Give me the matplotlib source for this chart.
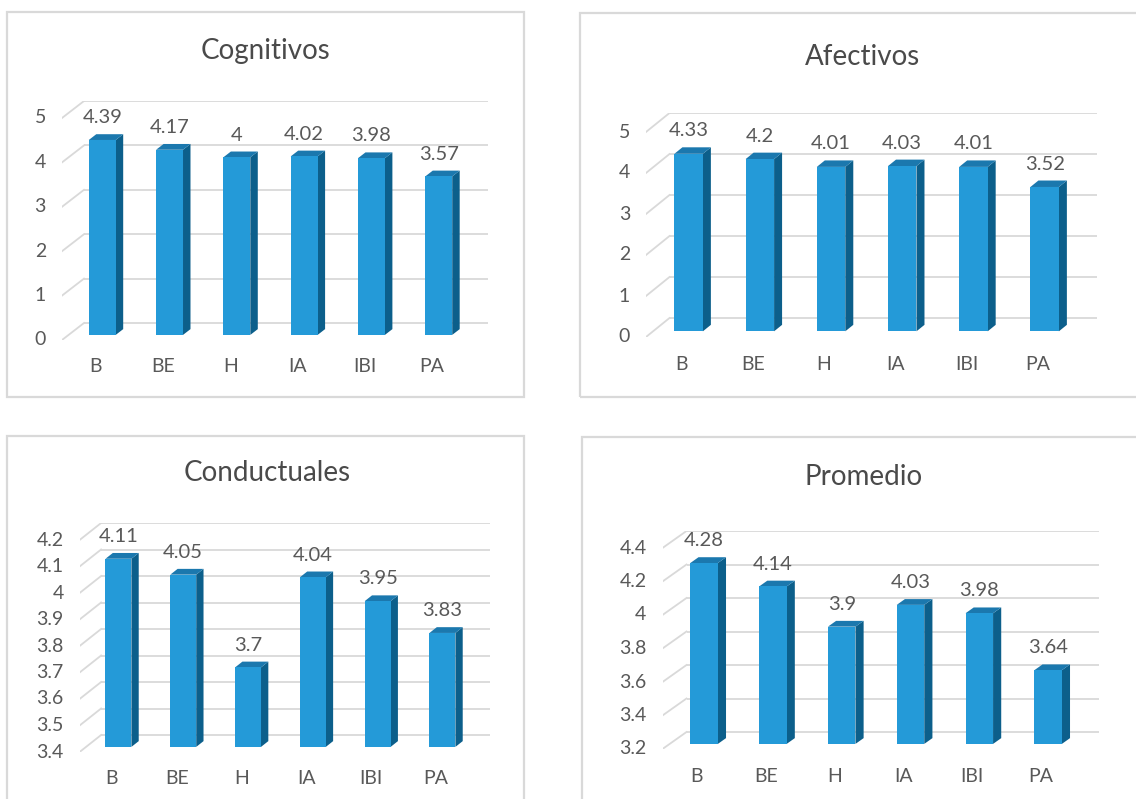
import matplotlib
matplotlib.use("Agg")
import matplotlib.pyplot as plt
from matplotlib.patches import Polygon, Rectangle

plt.rcParams['font.family'] = ['Lato', 'DejaVu Sans']

categories = ["B", "BE", "H", "IA", "IBI", "PA"]
cognitivos = [4.39, 4.17, 4.00, 4.02, 3.98, 3.57]
cognitivos_labels = ["4.39", "4.17", "4", "4.02", "3.98", "3.57"]
afectivos = [4.33, 4.20, 4.01, 4.03, 4.01, 3.52]
afectivos_labels = ["4.33", "4.2", "4.01", "4.03", "4.01", "3.52"]
conductuales = [4.11, 4.05, 3.70, 4.04, 3.95, 3.83]
conductuales_labels = ["4.11", "4.05", "3.7", "4.04", "3.95", "3.83"]
promedio = [4.28, 4.14, 3.90, 4.03, 3.98, 3.64]
promedio_labels = ["4.28", "4.14", "3.9", "4.03", "3.98", "3.64"]

ticks_cog = ["0", "1", "2", "3", "4", "5"]
ticks_afe = ["0", "1", "2", "3", "4", "5"]
ticks_con = ["3.4", "3.5", "3.6", "3.7", "3.8", "3.9", "4", "4.1", "4.2"]
ticks_pro = ["3.2", "3.4", "3.6", "3.8", "4", "4.2", "4.4"]

W, H = 1136, 799
fig = plt.figure(figsize=(W / 100, H / 100), dpi=100)
fig.patch.set_facecolor("white")

FRONT = "#249ad8"
TOP = "#1b78ae"
SIDE = "#0c5f8b"
GRID = "#d9d9d9"
TXT = "#595959"
TITLE = "#4a4a4a"

# panel borders (pixels: x0, y0, x1, y1)
borders = [(7, 12, 524, 397), (580, 13, 1160, 397), (7, 436, 524, 820), (582, 437, 1160, 820)]
for x0, y0, x1, y1 in borders:
    fig.add_artist(Rectangle((x0 / W, 1 - y1 / H), (x1 - x0) / W, (y1 - y0) / H,
                             transform=fig.transFigure, fill=False,
                             edgecolor=GRID, lw=1.6, clip_on=False))


def panel(title, values, labels, ticks, xl, sp, yb, ppu, dx, dy, tx, ty):
    tick_vals = [float(t) for t in ticks]
    ymin, ymax = tick_vals[0], tick_vals[-1]
    left = xl
    right = xl + 6 * sp + dx
    top = yb - (ymax - ymin) * ppu - dy
    ax = fig.add_axes([left / W, 1 - yb / H, (right - left) / W, (yb - top) / H])
    dxu = dx / sp
    dyu = dy / ppu
    ax.set_xlim(-0.5, 5.5 + dxu)
    ax.set_ylim(ymin, ymax + dyu)
    ax.axis("off")

    # gridlines: back wall and left side wall diagonals
    for v, t in zip(tick_vals, ticks):
        ax.plot([-0.5 + dxu, 5.5 + dxu], [v + dyu, v + dyu], color=GRID, lw=1.3,
                zorder=1, solid_capstyle="butt")
        ax.plot([-0.5, -0.5 + dxu], [v, v + dyu], color=GRID, lw=1.3, zorder=1)
        ax.annotate(t, (-0.5, v), xytext=(-16, 0), textcoords="offset pixels",
                    ha="right", va="center", fontsize=14, color=TXT,
                    annotation_clip=False)

    w = 0.4
    z0, z1 = 0.3, 0.64
    for i, (v, lab) in enumerate(zip(values, labels)):
        xf = i - w / 2 + z0 * dxu
        yf = ymin + z0 * dyu
        top_f = v + z0 * dyu
        ox = (z1 - z0) * dxu
        oy = (z1 - z0) * dyu
        front = Rectangle((xf, yf), w, top_f - yf, facecolor=FRONT, edgecolor="none", zorder=3)
        side = Polygon([(xf + w, yf), (xf + w, top_f), (xf + w + ox, top_f + oy),
                        (xf + w + ox, yf + oy)], closed=True, facecolor=SIDE,
                       edgecolor="none", zorder=3)
        topf = Polygon([(xf, top_f), (xf + w, top_f), (xf + w + ox, top_f + oy),
                        (xf + ox, top_f + oy)], closed=True, facecolor=TOP,
                       edgecolor="none", zorder=3)
        ax.add_patch(side)
        ax.add_patch(topf)
        ax.add_patch(front)
        ax.annotate(lab, (xf + w / 2, v + z1 * dyu), xytext=(0, 8),
                    textcoords="offset pixels", ha="center", va="bottom",
                    fontsize=14.5, color=TXT, annotation_clip=False, zorder=4)
        ax.annotate(categories[i], (i, ymin), xytext=(0, -27),
                    textcoords="offset pixels", ha="center", va="center",
                    fontsize=14, color=TXT, annotation_clip=False)

    fig.text(tx / W, 1 - ty / H, title, ha="center", va="center",
             fontsize=20, color=TITLE)


panel("Cognitivos", cognitivos, cognitivos_labels, ticks_cog,
      62, 67.3, 340, 44.4, 22, 17, 266, 51)
panel("Afectivos", afectivos, afectivos_labels, ticks_afe,
      646, 71.2, 337, 41.0, 23.5, 19, 863, 57)
panel("Conductuales", conductuales, conductuales_labels, ticks_con,
      79.6, 64.8, 752, 265.0, 21.5, 17, 267, 473)
panel("Promedio", promedio, promedio_labels, ticks_pro,
      662.5, 68.8, 749, 167.5, 24, 17, 864, 477)

fig.savefig("out.png", dpi=100, facecolor="white")
